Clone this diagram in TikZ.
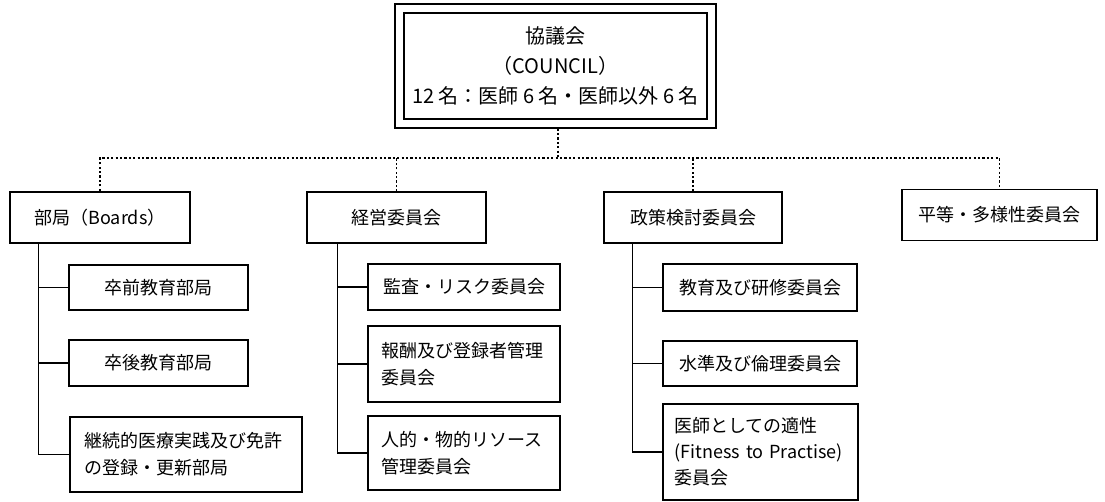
\documentclass[tikz,border=0pt]{standalone}
\usepackage{fontspec}
\setmainfont{Noto Sans CJK JP}
\usetikzlibrary{fit}
\begin{document}
\begin{tikzpicture}[x=1pt,y=-1pt,
  every node/.style={font=\fontsize{18}{27}\selectfont},
  box/.style={draw, line width=1.2pt, inner sep=0pt, align=center},
  multibox/.style={draw, line width=1.2pt, inner sep=0pt, align=left},
  conn/.style={line width=1.1pt},
  dot/.style={line width=1.1pt, dash pattern=on 2.2pt off 2.2pt}]
\useasboundingbox (0,0) rectangle (1105,502);
% council
\node[draw, line width=1.4pt, minimum width=303pt, minimum height=106pt, align=center,
  font=\fontsize{20}{30}\selectfont] (council) at (555.5,66)
  {協議会\\（COUNCIL）\\12 名：医師 6 名・医師以外 6 名};
\node[draw, line width=1.8pt, fit=(council), inner sep=8pt] (councilouter) {};
% boards
\node[box, line width=2.4pt, minimum width=180pt, minimum height=51pt] (b1) at (100,217.5) {部局（Boards）};
\node[box, minimum width=179pt, minimum height=51pt] (b2) at (396.5,217.5) {経営委員会};
\node[box, minimum width=178pt, minimum height=51pt] (b3) at (693,217.5) {政策検討委員会};
\node[box, minimum width=195pt, minimum height=51pt] (b4) at (999.5,215) {平等・多様性委員会};
% junction
\coordinate (j) at (558,158);
\draw[dot] (councilouter.south -| j) -- (j);
\draw[dot] (b1.north) -- (b1.north |- j) -- (b4.north |- j) -- (b4.north);
\draw[dot] (b2.north) -- (b2.north |- j);
\draw[dot] (b3.north) -- (b3.north |- j);
% sub boxes under b1
\node[box, minimum width=179pt, minimum height=45pt] (s11) at (158.5,287.5) {卒前教育部局};
\node[box, minimum width=179pt, minimum height=46pt] (s12) at (158.5,363) {卒後教育部局};
\node[multibox, minimum width=232pt, minimum height=75pt, text width=204pt] (s13) at (186,454.5) {継続的医療実践及び免許\\の登録・更新部局};
% sub boxes under b2
\node[box, minimum width=192pt, minimum height=46pt] (s21) at (464,287) {監査・リスク委員会};
\node[multibox, minimum width=192pt, minimum height=76pt, text width=166pt] (s22) at (464,364) {報酬及び登録者管理\\委員会};
\node[multibox, minimum width=192pt, minimum height=74pt, text width=166pt] (s23) at (464,453) {人的・物的リソース\\管理委員会};
% sub boxes under b3
\node[box, minimum width=194pt, minimum height=47pt] (s31) at (760,287.5) {教育及び研修委員会};
\node[box, minimum width=194pt, minimum height=45pt] (s32) at (760,363.5) {水準及び倫理委員会};
\node[multibox, minimum width=195pt, minimum height=96pt, text width=172pt,
  font=\fontsize{18}{26}\selectfont] (s33) at (760.5,452) {医師としての適性\\\mbox{(Fitness to Practise)}\\委員会};
% trunks
\draw[conn] ([xshift=30pt]b1.south west) |- (s11.west);
\draw[conn] ([xshift=30pt]b1.south west) |- (s12.west);
\draw[conn] ([xshift=30pt]b1.south west) |- (s13.west);
\draw[conn] ([xshift=31pt]b2.south west) |- (s21.west);
\draw[conn] ([xshift=31pt]b2.south west) |- (s22.west);
\draw[conn] ([xshift=31pt]b2.south west) |- (s23.west);
\draw[conn] ([xshift=29pt]b3.south west) |- (s31.west);
\draw[conn] ([xshift=29pt]b3.south west) |- (s32.west);
\draw[conn] ([xshift=29pt]b3.south west) |- (s33.west);
\end{tikzpicture}
\end{document}
